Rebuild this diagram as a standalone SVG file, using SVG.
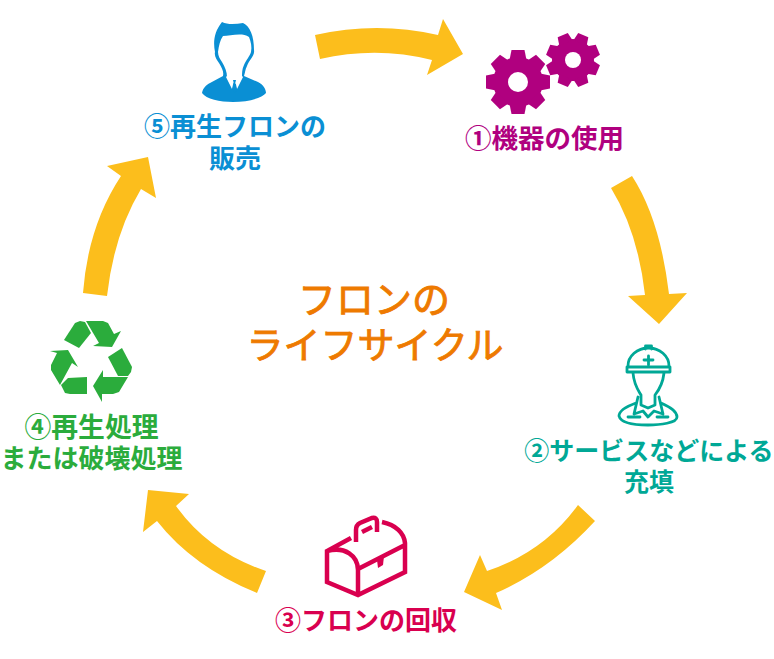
<svg xmlns="http://www.w3.org/2000/svg" width="774" height="659" viewBox="0 0 774 659">
<style>
text{font-family:"Noto Sans CJK JP","Noto Sans",sans-serif;font-weight:700;font-size:26px;text-anchor:middle}
.arrow{fill:#fcbe1c}
.teal{fill:none;stroke:#00a896;stroke-width:2.800;stroke-linejoin:round;stroke-linecap:round}
.red{fill:none;stroke:#d9004f;stroke-width:4.500;stroke-linejoin:miter}
</style>
<defs>
<path id="tooth" d="M-6.500-32H6.500L8.500-22H-8.500Z" stroke-linejoin="round"/>
<g id="gear">
<circle r="25"/>
<use href="#tooth"/><use href="#tooth" transform="rotate(45)"/><use href="#tooth" transform="rotate(90)"/><use href="#tooth" transform="rotate(135)"/><use href="#tooth" transform="rotate(180)"/><use href="#tooth" transform="rotate(225)"/><use href="#tooth" transform="rotate(270)"/><use href="#tooth" transform="rotate(315)"/>
</g>
</defs>
<rect width="774" height="659" fill="#fff"/>
<g id="connectors">
<path class="arrow" d="M315 35Q377 21 438 35L443 19L463 54L427 75L432 60Q377 46 320 59Z"/>
<path class="arrow" d="M632 176Q660 219 669 294L687 293L659 324L628 296L645 295Q638 232 611 188Z"/>
<path class="arrow" d="M578 505Q544 552 487 571L480 555L464 592L502 610L496 593Q551 569 595 521Z"/>
<path class="arrow" d="M266 571Q209 552 176 506L189 494L148 490L143 532L157 521Q193 567 257 593Z"/>
<path class="arrow" d="M83 293Q88 226 121 176L107 166L148 157L156 198L141 189Q114 234 107 296Z"/>
</g>
<g id="node1" fill="#b0007f">
<use href="#gear" transform="translate(518 82)"/><circle cx="518" cy="82" r="10" fill="#fff"/>
<use href="#gear" transform="translate(573 60) rotate(22.500) scale(.84)"/><circle cx="573" cy="60" r="8" fill="#fff"/>
<text x="544.500" y="148" style="font-size:26.500px">①機器の使用</text>
</g>
<g id="node2">
<path class="teal" d="M628 366A20.500 18 0 0 1 669 366M627 367H670V372H627ZM645.500 349V346H651.500V349M633 373C634 385 638 390 641 395V405L648 408L655 405V395C659 390 663 382 664 373M638 397L634 414L643 411L648 417L654 411L663 414L659 397M636 403C625 407 619 411 619 416C621 424 638 425 648 425C660 425 677 423 677 417C677 411 670 407 661 403M628 417H640M657 417H668"/>
<path class="teal" d="M644 360H653M648.500 356V365"/>
<text x="649" y="460" fill="#00a896" style="font-size:25px">②サービスなどによる</text>
<text x="649" y="491" fill="#00a896" style="font-size:25px">充填</text>
</g>
<g id="node3">
<path class="red" d="M351 538L327 551V582L358 595L405 572V543C404 533 396 525 382 522M327 551C345 546 358 556 358 570V595M358 569L405 545M356 542V530Q356 525 360 523L372 518Q377 517 377 522V532M362 532L372 527"/>
<path d="M377 560L384 556L383 565L378 568Z" fill="#d9004f"/>
<text x="366" y="630" fill="#d9004f">③フロンの回収</text>
</g>
<g id="node4" fill="#2bac3c">
<path d="M64 340L75 323L80 321L85 322L91 333L79 348Z"/>
<path d="M86 321H103L108 323L114 334L121 331L112 347L93 346L99 343Z"/>
<path d="M108 357L122 348L132 367L131 372L128 376H118Z"/>
<path d="M128 377L119 392L113 394H102V402L93 386L103 370V377Z"/>
<path d="M87 377V394H70L65 393L61 385L68 378Z"/>
<path d="M50 351L68 350L78 367L72 363L60 385L51 370V365L57 353Z"/>
<text x="91.500" y="437" style="font-size:26.800px">④再生処理</text>
<text x="91.500" y="468">または破壊処理</text>
</g>
<g id="node5" fill="#0a8fd4">
<path d="M215 52C213 42 214 32 222 22C228 25 236 24 243 23C250 26 254 36 254 50C255 56 249 60 247 66C245 70 245 73 244 76L258 82C264 85 266 90 266 93C262 98 248 102 233 102C220 102 206 99 202 93C203 88 206 85 210 83L223 76C224 72 222 68 219 63C217 60 214 56 215 52Z"/>
<path fill="#fff" d="M218 52C219 45 220 40 223 36C230 36 242 32 249 37C251 42 252 47 251 52C250 56 246 60 244 65C242 69 242 73 242 77L235 84L227 77C227 72 225 67 222 62C220 59 218 56 218 52Z"/>
<path fill="#fff" d="M226 77L232 89L234 80L228 75ZM243 77L237 89L235 80L241 75Z"/>
<path d="M233 80H236L235 84L237 90L235 93L232 90L234 84Z"/>
<text x="235" y="136">⑤再生フロンの</text>
<text x="235" y="168">販売</text>
</g>
<g id="title" fill="#ee7a00" stroke="#ee7a00" stroke-width=".9">
<text x="374" y="313" style="font-size:38px;font-weight:400">フロンの</text>
<text x="375" y="359" style="font-size:37px;font-weight:400">ライフサイクル</text>
</g>
</svg>
